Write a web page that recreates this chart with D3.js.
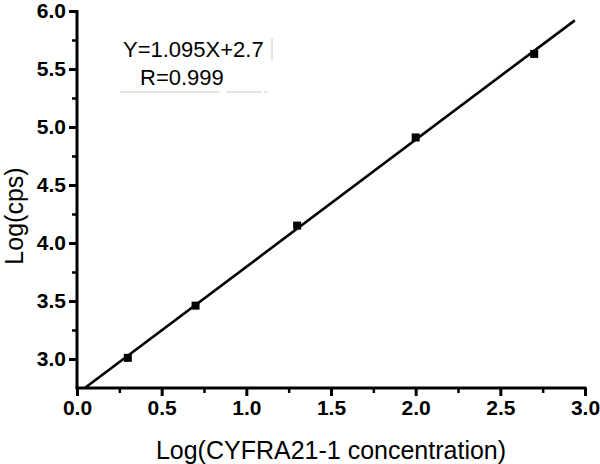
<!DOCTYPE html>
<html lang="en">

<head>
    <meta charset="utf-8">
    <title>Log(cps) vs Log(CYFRA21-1 concentration)</title>
    <script src="https://d3js.org/d3.v7.min.js"></script>
    <style type="text/css">
        body { margin: 0; background: #fff; }
        text { font-family: "Liberation Sans", Arial, sans-serif; }
    </style>
</head>

<body>
    <script type="text/javascript">

        // data
        var logConc = [0.3, 0.7, 1.3, 2.0, 2.7];
        var logCps = [3.01, 3.46, 4.15, 4.91, 5.63];

        // fitted line Y = 1.095X + 2.7, drawn over this x span
        var slope = 1.095,
            intercept = 2.7,
            fitSpan = [0.046, 2.94];

        var xTicks = [0, 0.5, 1, 1.5, 2, 2.5, 3],
            xMinor = [0.25, 0.75, 1.25, 1.75, 2.25, 2.75],
            yTicks = [3, 3.5, 4, 4.5, 5, 5.5, 6],
            yMinor = [3.25, 3.75, 4.25, 4.75, 5.25, 5.75];

        var eqText = "Y=1.095X+2.7",
            rText = "R=0.999";

        //Width and height
        var w = 600,
            h = 464,
            padL = 77,
            padR = 585,
            padT = 11,
            padB = 388;

        var xScale = d3.scaleLinear()
            .domain([0, 3])
            .range([padL, padR]);

        var yScale = d3.scaleLinear()
            .domain([2.75, 6])
            .range([padB, padT]);

        var svg = d3.select("body")
            .append("svg")
            .attr("width", w)
            .attr("height", h);

        function styleAxis(g, wd) {
            g.selectAll(".domain").remove();
            g.selectAll(".tick line")
                .attr("stroke", "#000")
                .attr("stroke-width", wd);
        }

        // minor ticks
        svg.append("g")
            .attr("transform", "translate(0," + padB + ")")
            .call(d3.axisBottom(xScale).tickValues(xMinor).tickSize(5).tickFormat(""))
            .call(styleAxis, 2.5);

        svg.append("g")
            .attr("transform", "translate(" + padL + ",0)")
            .call(d3.axisLeft(yScale).tickValues(yMinor).tickSize(5).tickFormat(""))
            .call(styleAxis, 2.5);

        // major ticks with labels
        svg.append("g")
            .attr("transform", "translate(0," + padB + ")")
            .call(d3.axisBottom(xScale).tickValues(xTicks).tickSize(8)
                .tickPadding(4).tickFormat(d3.format(".1f")))
            .call(styleAxis, 3);

        svg.append("g")
            .attr("transform", "translate(" + padL + ",0)")
            .call(d3.axisLeft(yScale).tickValues(yTicks).tickSize(8)
                .tickPadding(3).tickFormat(d3.format(".1f")))
            .call(styleAxis, 3);

        // axis lines
        svg.append("line")
            .attr("x1", xScale.range()[0] - 1.5).attr("x2", xScale.range()[1] + 1.5)
            .attr("y1", yScale.range()[0]).attr("y2", yScale.range()[0])
            .attr("stroke", "#000")
            .attr("stroke-width", 3);

        svg.append("line")
            .attr("x1", xScale.range()[0]).attr("x2", xScale.range()[0])
            .attr("y1", yScale.range()[0]).attr("y2", yScale.range()[1] - 1)
            .attr("stroke", "#000")
            .attr("stroke-width", 3);

        svg.selectAll(".tick text")
            .attr("font-family", "'Liberation Sans', Arial, sans-serif")
            .attr("font-weight", "bold")
            .attr("font-size", "21px")
            .attr("fill", "#000");

        // fitted line
        var line = d3.line()
            .x(d => xScale(d))
            .y(d => yScale(slope * d + intercept));

        svg.append("path")
            .datum(fitSpan)
            .attr("d", line)
            .attr("fill", "none")
            .attr("stroke", "#000")
            .attr("stroke-width", 2.6);

        // square markers
        svg.selectAll("rect.pt")
            .data(logConc)
            .enter()
            .append("rect")
            .attr("class", "pt")
            .attr("x", d => xScale(d) - 4)
            .attr("y", (d, i) => yScale(logCps[i]) - 4)
            .attr("width", 8)
            .attr("height", 8)
            .attr("fill", "#000");

        // axis titles
        svg.append("text")
            .attr("x", (padL + padR) / 2)
            .attr("y", 459)
            .attr("text-anchor", "middle")
            .attr("font-size", "25px")
            .attr("fill", "#000")
            .text("Log(CYFRA21-1 concentration)");

        svg.append("text")
            .attr("transform", "translate(23,216) rotate(-90)")
            .attr("text-anchor", "middle")
            .attr("font-size", "25px")
            .attr("fill", "#000")
            .text("Log(cps)");

        // equation box
        svg.append("text")
            .attr("x", 123)
            .attr("y", 57)
            .attr("font-size", "22px")
            .attr("fill", "#000")
            .text(eqText);

        svg.append("text")
            .attr("x", 140)
            .attr("y", 85)
            .attr("font-size", "22px")
            .attr("fill", "#000")
            .text(rText);

        // faint text-box remnants
        svg.append("line")
            .attr("x1", 120).attr("x2", 268)
            .attr("y1", 92).attr("y2", 92)
            .attr("stroke", "#c8c8c8")
            .attr("stroke-dasharray", "100,6,36,2,4")
            .attr("stroke-width", 1);

        svg.append("line")
            .attr("x1", 272).attr("x2", 272)
            .attr("y1", 38).attr("y2", 60)
            .attr("stroke", "#c8c8c8")
            .attr("stroke-width", 1);

    </script>
</body>

</html>
